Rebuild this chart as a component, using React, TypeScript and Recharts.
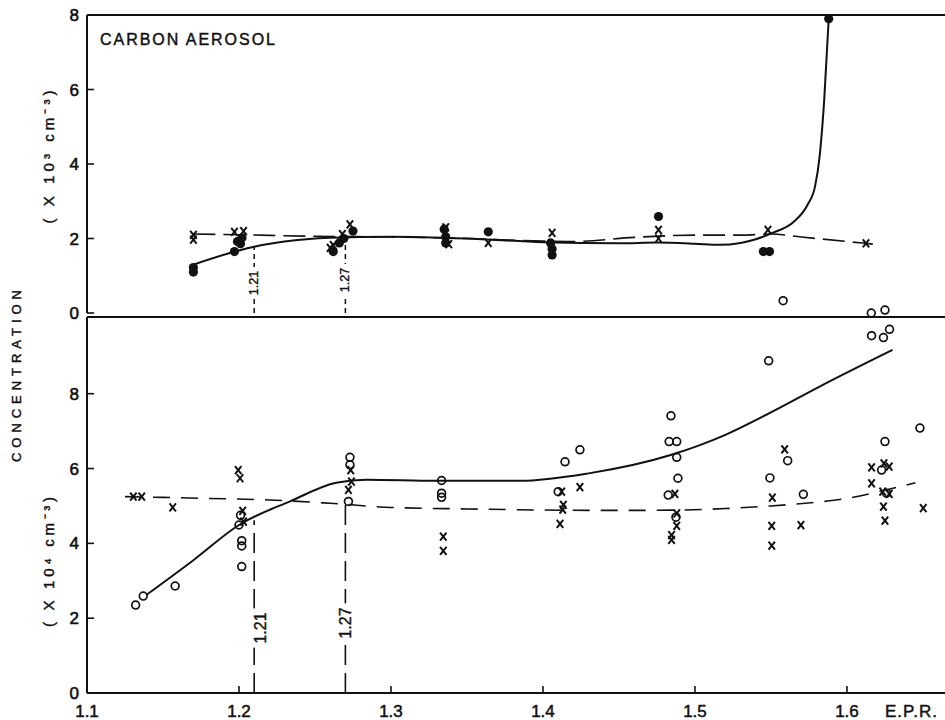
import React from 'react';
import { ComposedChart, Line, Scatter, XAxis, YAxis, ReferenceLine } from 'recharts';

// E.P.R. axis and tick values
const xDomain = [1.1, 1.6645];
const xTicksTop = [1.2, 1.3, 1.4, 1.5, 1.6];
const xTicksBottom = [1.1, 1.2, 1.3, 1.4, 1.5, 1.6];
const yTicksTop = [0, 2, 4, 6, 8];
const yTicksBottom = [0, 2, 4, 6, 8];
const yMaxTop = 8;
const yMaxBottom = 10.05;

// top panel: carbon aerosol (x 10^3 cm^-3)
const topDots = [
  [1.17, 1.22], [1.17, 1.1], [1.197, 1.65], [1.199, 1.92], [1.202, 2.02], [1.201, 1.86],
  [1.262, 1.65], [1.266, 1.88], [1.269, 2.0], [1.275, 2.2],
  [1.335, 2.25], [1.336, 2.05], [1.336, 1.88], [1.364, 2.18],
  [1.405, 1.88], [1.406, 1.56], [1.406, 1.72], [1.476, 2.59],
  [1.545, 1.65], [1.549, 1.65], [1.588, 7.9],
];
const topCrosses = [
  [1.17, 2.1], [1.17, 1.97], [1.197, 2.18], [1.203, 2.2], [1.26, 1.75], [1.262, 1.82],
  [1.268, 2.12], [1.273, 2.38], [1.336, 2.3], [1.338, 1.85], [1.364, 1.88],
  [1.406, 2.15], [1.476, 2.23], [1.476, 2.0], [1.548, 2.23], [1.6125, 1.87],
];
const topRings = [[1.558, 0.33], [1.616, 0.0], [1.625, 0.08]];
const topSolid = [
  [1.17, 1.3], [1.2, 1.68], [1.21, 1.78], [1.23, 1.92], [1.26, 2.02], [1.3, 2.05],
  [1.35, 2.0], [1.4, 1.9], [1.45, 1.87], [1.475, 1.89], [1.5, 1.86], [1.516, 1.83],
  [1.53, 1.88], [1.54, 1.98], [1.551, 2.15], [1.565, 2.45], [1.574, 2.9],
  [1.579, 3.4], [1.582, 4.2], [1.585, 5.7], [1.588, 7.9],
];
const topDashed = [
  [1.17, 2.12], [1.2, 2.1], [1.25, 2.06], [1.3, 2.04], [1.35, 2.0], [1.4, 1.93],
  [1.42, 1.92], [1.46, 2.03], [1.5, 2.09], [1.53, 2.09], [1.55, 2.12], [1.57, 2.04],
  [1.617, 1.85],
];

// bottom panel (x 10^4 cm^-3)
const bottomRings = [
  [1.132, 2.35], [1.137, 2.59], [1.158, 2.86], [1.2018, 3.38], [1.2018, 3.93], [1.2018, 4.07],
  [1.2, 4.49], [1.201, 4.75], [1.272, 5.12], [1.273, 6.1], [1.273, 6.3],
  [1.3333, 5.68], [1.3333, 5.34], [1.3333, 5.23], [1.4145, 6.18], [1.4243, 6.5], [1.41, 5.38],
  [1.4842, 7.41], [1.483, 6.72], [1.488, 6.72], [1.488, 6.3], [1.4888, 5.74], [1.4824, 5.29],
  [1.4875, 4.7], [1.5485, 8.88], [1.5493, 5.75], [1.561, 6.21], [1.5713, 5.31],
  [1.625, 6.72], [1.6228, 5.96], [1.626, 5.34], [1.648, 7.08],
  [1.6162, 9.55], [1.624, 9.5], [1.628, 9.72],
];
const bottomCrosses = [
  [1.1305, 5.25], [1.136, 5.25], [1.1564, 4.96], [1.1995, 5.96], [1.2007, 5.74], [1.2024, 4.87],
  [1.203, 4.58], [1.2735, 5.96], [1.274, 5.65], [1.272, 5.43], [1.3344, 4.18], [1.3344, 3.8],
  [1.4123, 5.38], [1.4134, 5.03], [1.413, 4.9], [1.4112, 4.52], [1.4243, 5.5],
  [1.4868, 5.32], [1.488, 4.8], [1.488, 4.47], [1.4846, 4.22], [1.4846, 4.09],
  [1.559, 6.51], [1.5509, 5.22], [1.5505, 4.47], [1.5505, 3.94], [1.5697, 4.49],
  [1.6162, 6.03], [1.6162, 5.6], [1.6243, 6.14], [1.6278, 6.05], [1.6235, 5.38],
  [1.6278, 5.32], [1.624, 4.98], [1.625, 4.61], [1.6502, 4.94],
];
const bottomSolid = [
  [1.139, 2.62], [1.17, 3.55], [1.2, 4.49], [1.234, 5.13], [1.264, 5.62], [1.284, 5.7],
  [1.33, 5.67], [1.385, 5.67], [1.43, 5.87], [1.484, 6.36], [1.52, 6.9], [1.549, 7.48],
  [1.582, 8.19], [1.63, 9.17],
];
const bottomDashed = [
  [1.125, 5.25], [1.18, 5.2], [1.22, 5.16], [1.26, 5.07], [1.3, 4.96], [1.35, 4.92],
  [1.4, 4.89], [1.45, 4.88], [1.49, 4.89], [1.52, 4.93], [1.55, 5.0], [1.58, 5.1],
  [1.6, 5.2], [1.625, 5.42], [1.645, 5.62],
];

// marked E.P.R. values and the heights their drop lines start from
const eprMarks = ['1.21', '1.27'];
const eprValues = [1.21, 1.27];
const topMarkTops = [1.78, 2.02];
const bottomMarkTops = [4.62, 5.1];

const pts = (a: number[][]) => a.map(([x, y]) => ({ x, y }));

const INK = '#111';
const FONT = '"Liberation Sans", Arial, sans-serif';
const TICK_IN = 7;

const Dot = (p: any) => <circle cx={p.cx} cy={p.cy} r={4.6} fill={INK} />;
const Ring = (p: any) => (
  <circle cx={p.cx} cy={p.cy} r={3.9} fill="none" stroke={INK} strokeWidth={1.7} />
);
const Cross = (p: any) => (
  <g stroke={INK} strokeWidth={2}>
    <line x1={p.cx - 3.2} y1={p.cy - 4} x2={p.cx + 3.2} y2={p.cy + 4} />
    <line x1={p.cx + 3.2} y1={p.cy - 4} x2={p.cx - 3.2} y2={p.cy + 4} />
  </g>
);

// ticks point into the plot, so the tick mark is drawn with the label
const YTick = (p: any) => (
  <g>
    <line x1={p.x + 8} y1={p.y} x2={p.x + 8 + TICK_IN} y2={p.y} stroke={INK} strokeWidth={1.6} />
    <text x={p.x} y={p.y} dy="0.36em" textAnchor="end" fontFamily={FONT} fontSize={17} fill={INK} stroke={INK} strokeWidth={0.6}>
      {p.payload.value}
    </text>
  </g>
);
const XTickBottom = (p: any) => (
  <g>
    <line x1={p.x} y1={p.y - 10} x2={p.x} y2={p.y - 10 - TICK_IN} stroke={INK} strokeWidth={1.6} />
    <text x={p.x} y={p.y + 14} textAnchor="middle" fontFamily={FONT} fontSize={17} fill={INK} stroke={INK} strokeWidth={0.5}>
      {Number(p.payload.value).toFixed(1)}
    </text>
  </g>
);
const XTickTop = (p: any) => (
  <line x1={p.x} y1={p.y} x2={p.x} y2={p.y - TICK_IN} stroke={INK} strokeWidth={1.6} />
);

const eprTag = (text: string, fontSize: number, rise: number, dx = 0) => (props: any) => {
  const vb = props.viewBox || {};
  const cx = (vb.x ?? 0) + dx;
  const cy = (vb.y ?? 0) + (vb.height ?? 0) - rise;
  const len = text.length * fontSize * 0.52 + 6;
  return (
    <g>
      <rect x={cx - fontSize * 0.5} y={cy - len / 2} width={fontSize} height={len} fill="#fff" />
      <text
        x={cx}
        y={cy}
        transform={`rotate(-90 ${cx} ${cy})`}
        textAnchor="middle"
        dominantBaseline="central"
        fontFamily={FONT}
        fontSize={fontSize}
        fill={INK}
        stroke={INK}
        strokeWidth={0.4}
      >
        {text}
      </text>
    </g>
  );
};

const TopPanel = () => (
  <ComposedChart width={945} height={330} margin={{ top: 15, right: 0, bottom: 17, left: 27 }}>
    <XAxis
      dataKey="x"
      type="number"
      domain={xDomain}
      ticks={xTicksTop}
      interval={0}
      tick={XTickTop}
      height={0}
      tickSize={0}
      tickMargin={0}
      tickLine={false}
      axisLine={{ stroke: INK, strokeWidth: 2 }}
    />
    <YAxis
      dataKey="y"
      type="number"
      domain={[0, yMaxTop]}
      ticks={yTicksTop}
      interval={0}
      width={60}
      tickSize={0}
      tickMargin={8}
      tick={YTick}
      tickLine={false}
      axisLine={{ stroke: INK, strokeWidth: 2 }}
    />
    <ReferenceLine y={yMaxTop} stroke={INK} strokeWidth={2} />
    {eprValues.map((v, i) => (
      <ReferenceLine
        key={eprMarks[i]}
        segment={[{ x: v, y: 0 }, { x: v, y: topMarkTops[i] }]}
        stroke={INK}
        strokeWidth={1.5}
        strokeDasharray="5 4"
        label={eprTag(eprMarks[i], 12.5, i === 0 ? 30 : 33)}
      />
    ))}
    <Line data={pts(topSolid)} dataKey="y" type="monotone" stroke={INK} strokeWidth={2} dot={false} isAnimationActive={false} />
    <Line data={pts(topDashed)} dataKey="y" type="monotone" stroke={INK} strokeWidth={1.6} strokeDasharray="22 8" dot={false} isAnimationActive={false} />
    <Scatter data={pts(topDots)} dataKey="y" shape={Dot} isAnimationActive={false} />
    <Scatter data={pts(topCrosses)} dataKey="y" shape={Cross} isAnimationActive={false} />
    <Scatter data={pts(topRings)} dataKey="y" shape={Ring} isAnimationActive={false} />
  </ComposedChart>
);

const BottomPanel = () => (
  <ComposedChart width={945} height={404} margin={{ top: 1, right: 0, bottom: 0, left: 27 }}>
    <XAxis
      dataKey="x"
      type="number"
      domain={xDomain}
      ticks={xTicksBottom}
      interval={0}
      height={27}
      tickSize={0}
      tickMargin={10}
      tick={XTickBottom}
      tickLine={false}
      axisLine={{ stroke: INK, strokeWidth: 2 }}
    />
    <YAxis
      dataKey="y"
      type="number"
      domain={[0, yMaxBottom]}
      ticks={yTicksBottom}
      interval={0}
      width={60}
      tickSize={0}
      tickMargin={8}
      tick={YTick}
      tickLine={false}
      axisLine={{ stroke: INK, strokeWidth: 2 }}
    />
    <ReferenceLine y={yMaxBottom} stroke={INK} strokeWidth={2} />
    {eprValues.map((v, i) => (
      <ReferenceLine
        key={eprMarks[i]}
        segment={[{ x: v, y: 0 }, { x: v, y: bottomMarkTops[i] }]}
        stroke={INK}
        strokeWidth={1.6}
        strokeDasharray="20 8"
        label={eprTag(eprMarks[i], 16, i === 0 ? 65 : 70, i === 0 ? 6 : 0)}
      />
    ))}
    <Line data={pts(bottomSolid)} dataKey="y" type="monotone" stroke={INK} strokeWidth={2} dot={false} isAnimationActive={false} />
    <Line data={pts(bottomDashed)} dataKey="y" type="monotone" stroke={INK} strokeWidth={1.6} strokeDasharray="17 11" dot={false} isAnimationActive={false} />
    <Scatter data={pts(bottomRings)} dataKey="y" shape={Ring} isAnimationActive={false} />
    <Scatter data={pts(bottomCrosses)} dataKey="y" shape={Cross} isAnimationActive={false} />
  </ComposedChart>
);

export default function App() {
  return (
    <div style={{ position: 'absolute', left: 0, top: 0, width: 945, height: 720, background: '#fff', overflow: 'hidden' }}>
      <div style={{ position: 'absolute', left: 0, top: 316 }}>
        <BottomPanel />
      </div>
      <div style={{ position: 'absolute', left: 0, top: 0, pointerEvents: 'none' }}>
        <TopPanel />
      </div>
      <svg width={945} height={720} style={{ position: 'absolute', left: 0, top: 0, pointerEvents: 'none' }}>
        <g fontFamily={FONT} fill={INK} stroke={INK} strokeWidth={0.45}>
          <text x={100} y={45} fontSize={16} textLength={175} lengthAdjust="spacing">CARBON AEROSOL</text>
          <text x={16} y={376} transform="rotate(-90 16 376)" textAnchor="middle" dominantBaseline="central" fontSize={13} textLength={172} lengthAdjust="spacing">CONCENTRATION</text>
          <text x={48} y={157} transform="rotate(-90 48 157)" textAnchor="middle" dominantBaseline="central" fontSize={15} textLength={133} lengthAdjust="spacing">( X 10³ cm⁻³)</text>
          <text x={48} y={562} transform="rotate(-90 48 562)" textAnchor="middle" dominantBaseline="central" fontSize={15} textLength={130} lengthAdjust="spacing">( X 10⁴ cm⁻³)</text>
          <text x={937} y={717} textAnchor="end" fontSize={17} textLength={52} lengthAdjust="spacing">E.P.R.</text>
        </g>
      </svg>
    </div>
  );
}
